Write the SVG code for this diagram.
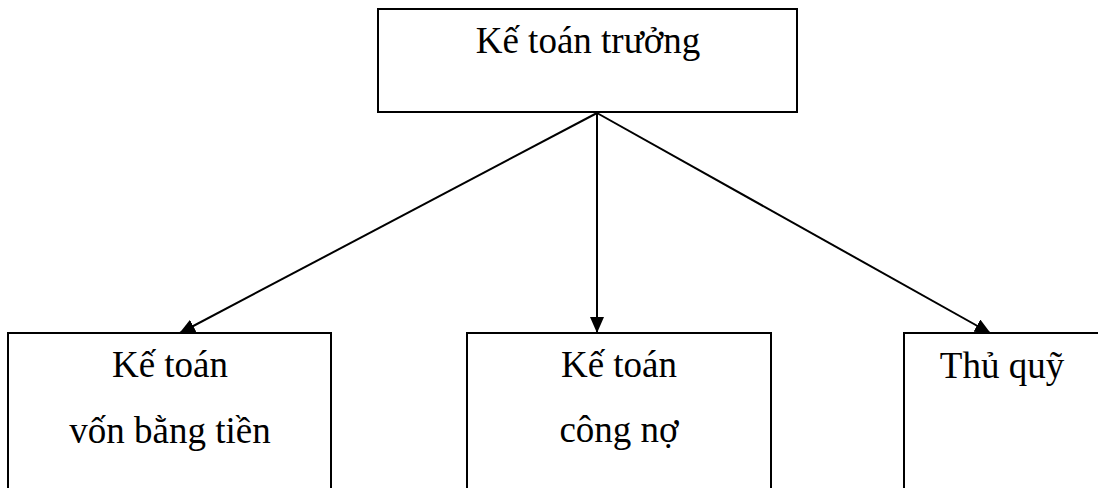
<svg xmlns="http://www.w3.org/2000/svg" width="1098" height="488" viewBox="0 0 1098 488">
<style>
.box{fill:#fff;stroke:#000;stroke-width:2}
.t{font-family:"Liberation Serif","Times New Roman",serif;font-size:37px;fill:#000;text-anchor:middle}
.c{stroke:#000;stroke-width:2;fill:none}
</style>
<defs>
<marker id="ah" markerWidth="16" markerHeight="14" refX="15" refY="7" orient="auto" markerUnits="userSpaceOnUse">
<path d="M0,0 L16,7 L0,14 Z" fill="#000"/>
</marker>
</defs>
<rect width="1098" height="488" fill="#fff"/>
<g id="connectors">
<line class="c" x1="597" y1="113" x2="180" y2="333" marker-end="url(#ah)"/>
<line class="c" x1="597" y1="113" x2="597" y2="332" marker-end="url(#ah)"/>
<line class="c" x1="597" y1="113" x2="990" y2="333" marker-end="url(#ah)"/>
</g>
<g id="n-truong">
<rect class="box" x="378" y="9" width="419" height="103"/>
<text class="t" x="588" y="53">Kế toán trưởng</text>
</g>
<g id="n-von">
<rect class="box" x="8" y="333" width="323" height="170"/>
<text class="t" x="170" y="377">Kế toán</text>
<text class="t" x="170" y="443">vốn bằng tiền</text>
</g>
<g id="n-congno">
<rect class="box" x="467" y="333" width="304" height="170"/>
<text class="t" x="619" y="377">Kế toán</text>
<text class="t" x="619" y="442">công nợ</text>
</g>
<g id="n-thuquy">
<rect class="box" x="904" y="333" width="200" height="170"/>
<text class="t" x="1002" y="378">Thủ quỹ</text>
</g>
</svg>
